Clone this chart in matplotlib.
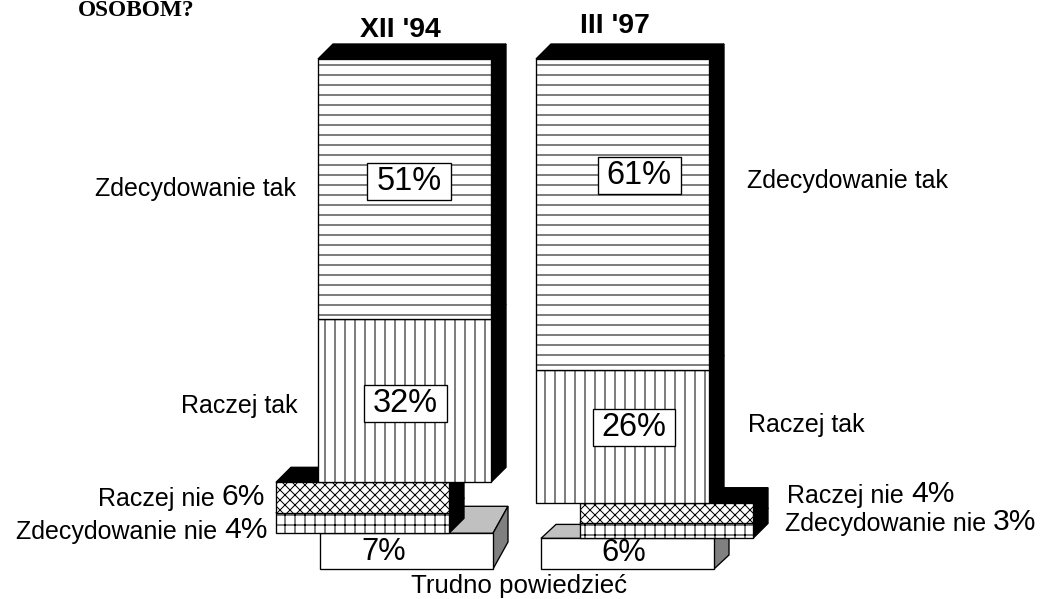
import matplotlib
matplotlib.use("Agg")
import matplotlib.pyplot as plt
from matplotlib.patches import Polygon, Rectangle

plt.rcParams['font.family'] = ['Liberation Sans', 'DejaVu Sans']
plt.rcParams['hatch.linewidth'] = 0.6

# data (percent)
periods = ["XII '94", "III '97"]
zdec_tak = [51, 61]
raczej_tak = [32, 26]
raczej_nie = [6, 4]
zdec_nie = [4, 3]
trudno = [7, 6]

# layout, in pixels (axes are set up 1 unit = 1 px, y pointing down)
DPI = 120
SCALE = 5.1          # px per percent
TOP = 59
WIDTH = 173
DX = 15
DY = 15
main_x = [318, 536]
shifted_x = [276, 580]
trudno_x = [320, 541]
trudno_dy = [27, 14]
LW = 0.8

fig = plt.figure(figsize=(1045 / DPI, 599 / DPI), dpi=DPI)
ax = fig.add_axes([0, 0, 1, 1])
ax.set_xlim(0, 1045)
ax.set_ylim(599, 0)
ax.axis('off')


def box3d(x, y0, h, hatch, top_c, side_c, z, dy=DY, top=True):
    ax.bar(x, h, WIDTH, bottom=y0, align='edge', color='white', edgecolor='black',
           hatch=hatch, linewidth=LW, zorder=z + 0.2)
    if top:
        ax.add_patch(Polygon([(x, y0), (x + WIDTH, y0), (x + WIDTH + DX, y0 - dy), (x + DX, y0 - dy)],
                             closed=True, fc=top_c, ec='black', lw=LW, zorder=z))
    ax.add_patch(Polygon([(x + WIDTH, y0), (x + WIDTH + DX, y0 - dy), (x + WIDTH + DX, y0 + h - dy), (x + WIDTH, y0 + h)],
                         closed=True, fc=side_c, ec='black', lw=LW, zorder=z))


for i in range(2):
    y_zt = TOP
    y_rt = y_zt + zdec_tak[i] * SCALE
    y_rn = y_rt + raczej_tak[i] * SCALE
    y_zn = y_rn + raczej_nie[i] * SCALE
    y_td = y_zn + zdec_nie[i] * SCALE

    box3d(trudno_x[i], y_td, trudno[i] * SCALE, None, '#c0c0c0', '#808080', 1, dy=trudno_dy[i])
    box3d(shifted_x[i], y_zn, zdec_nie[i] * SCALE, '++', 'black', 'black', 2)
    box3d(shifted_x[i], y_rn, raczej_nie[i] * SCALE, 'xxxx', 'black', 'black', 3)
    box3d(main_x[i], y_rt, raczej_tak[i] * SCALE, '||', 'black', 'black', 4, top=False)
    box3d(main_x[i], y_zt, zdec_tak[i] * SCALE, '--', 'black', 'black', 5)

# titles
ax.text(78, 16, "OSOBOM?", fontsize=14, fontweight='bold', family=['Liberation Serif'],
        ha='left', va='baseline')
ax.text(400, 37, periods[0], fontsize=17, fontweight='bold', ha='center', va='baseline')
ax.text(615, 33, periods[1], fontsize=17, fontweight='bold', ha='center', va='baseline')

# percent labels in framed boxes
pct_pos = [[(409, 181), (405, 403)], [(639, 175), (634, 427)]]
boxed = []
for i in range(2):
    for (px, py), v in zip(pct_pos[i], [zdec_tak[i], raczej_tak[i]]):
        boxed.append(ax.text(px, py, f"{v}%", fontsize=19.5, ha='center', va='center', zorder=11))

renderer = fig.canvas.get_renderer()
inv = ax.transData.inverted()
for t in boxed:
    bb = t.get_window_extent(renderer)
    (x0, y0), (x1, y1) = inv.transform([(bb.x0, bb.y0), (bb.x1, bb.y1)])
    xl, xr = min(x0, x1) - 9, max(x0, x1) + 9
    yt, yb = min(y0, y1) - 3, max(y0, y1) + 3
    ax.add_patch(Rectangle((xl, yt), xr - xl, yb - yt, fc='white', ec='black', lw=LW, zorder=10))

ax.text(384, 552, f"{trudno[0]}%", fontsize=18.5, ha='center', va='center', zorder=10)
ax.text(624, 553, f"{trudno[1]}%", fontsize=18.5, ha='center', va='center', zorder=10)

LAB = 15
BIG = 18
# left side labels
ax.text(296, 196, "Zdecydowanie tak", fontsize=LAB, ha='right', va='baseline')
ax.text(298, 413, "Raczej tak", fontsize=LAB, ha='right', va='baseline')
t = ax.text(265, 505, f"{raczej_nie[0]}%", fontsize=BIG, ha='right', va='baseline')
ax.annotate("Raczej nie ", xy=(0, 0), xycoords=t, ha='right', va='bottom', fontsize=LAB)
t = ax.text(268, 538, f"{zdec_nie[0]}%", fontsize=BIG, ha='right', va='baseline')
ax.annotate("Zdecydowanie nie ", xy=(0, 0), xycoords=t, ha='right', va='bottom', fontsize=LAB)

# right side labels
ax.text(747, 188, "Zdecydowanie tak", fontsize=LAB, ha='left', va='baseline')
ax.text(748, 432, "Raczej tak", fontsize=LAB, ha='left', va='baseline')
t = ax.text(787, 503, "Raczej nie ", fontsize=LAB, ha='left', va='baseline')
ax.annotate(f"{raczej_nie[1]}%", xy=(1, 0), xycoords=t, ha='left', va='bottom', fontsize=BIG)
t = ax.text(785, 531, "Zdecydowanie nie ", fontsize=LAB, ha='left', va='baseline')
ax.annotate(f"{zdec_nie[1]}%", xy=(1, 0), xycoords=t, ha='left', va='bottom', fontsize=BIG)

ax.text(519, 593, "Trudno powiedzieć", fontsize=15.5, ha='center', va='baseline')

fig.savefig("out.png", dpi=DPI)
